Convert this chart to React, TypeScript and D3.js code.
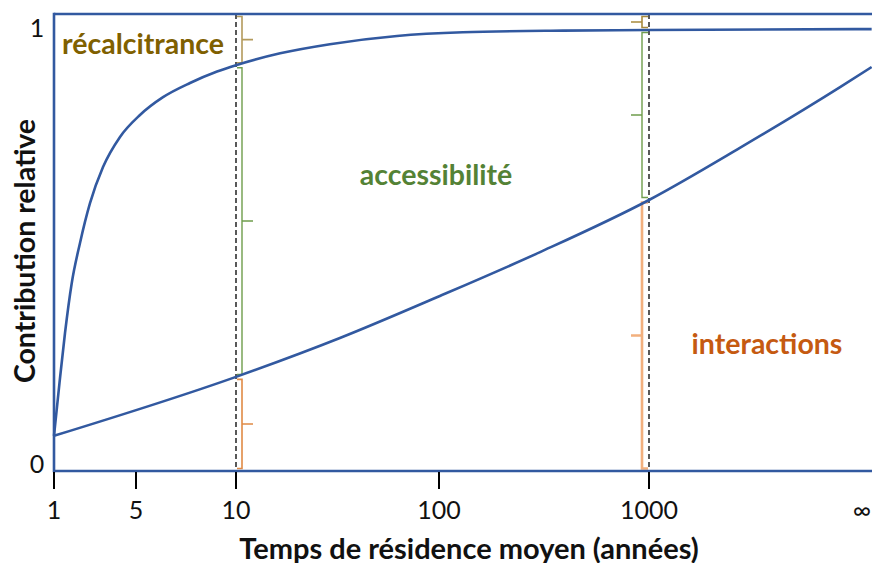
import React from "react";
import * as d3 from "d3";

// ---- data ----
const xTickValues = [1, 5, 10, 100, 1000];
const xTickLabels = ["1", "5", "10", "100", "1000"];
const infinityValue = 10000;
const infinityLabel = "∞";
const yTickValues = [0, 1];
const yTickLabels = ["0", "1"];

// upper curve (years, relative contribution)
const upperYears = [1, 1.114, 1.241, 1.416, 1.666, 2.027, 2.617, 3.653, 5.14, 6.03, 7.27, 8.77, 10, 16.5, 29, 62.1, 130, 389, 1000, 11100];
const upperValues = [0.077, 0.193, 0.302, 0.411, 0.499, 0.586, 0.665, 0.731, 0.779, 0.818, 0.849, 0.874, 0.888, 0.914, 0.934, 0.952, 0.96, 0.9637, 0.965, 0.967];

// lower curve
const lowerYears = [1, 10, 32.5, 101, 303, 1000, 2670, 7890, 11100];
const lowerValues = [0.077, 0.206, 0.291, 0.383, 0.479, 0.593, 0.707, 0.84, 0.884];

// markers (dashed lines) and bracket extents
const markerYears = [10, 1000];
const upperAtMarker = [0.888, 0.965];
const lowerAtMarker = [0.206, 0.593];

const labels = ["récalcitrance", "accessibilité", "interactions"];
const xTitle = "Temps de résidence moyen (années)";
const yTitle = "Contribution relative";

// ---- layout ----
const W = 872;
const H = 563;
const left = 54;
const top = 14;
const bottom = 471;

const BLUE = "#3259a0";
const FONT = "Lato, 'Open Sans', sans-serif";

export default function App() {
  const xs = d3
    .scaleLinear()
    .domain([1, 5, 10, 100, 1000, infinityValue].map((d) => Math.log10(d)))
    .range([54, 136, 236, 439, 649, 862]);
  const x = (t: number) => xs(Math.log10(t));
  const y = d3.scaleLinear().domain([0, 1]).range([bottom, top]);

  const line = d3
    .line<[number, number]>()
    .x((d) => x(d[0]))
    .y((d) => y(d[1]))
    .curve(d3.curveMonotoneX);

  const upper = upperYears.map((t, i) => [t, upperValues[i]] as [number, number]);
  const lower = lowerYears.map((t, i) => [t, lowerValues[i]] as [number, number]);

  const bracketColors = [
    ["#b39a5c", "#e08a45", "#6f9d4c"],
    ["#a88a3c", "#f2b07e", "#6f9d4c"],
  ];

  const brackets: JSX.Element[] = [];
  markerYears.forEach((t, i) => {
    const mx = x(t);
    const side = i === 0 ? 1 : -1;
    const bx = mx + side * (i === 0 ? 6 : 7);
    const tickLen = 11;
    const segs = [
      { from: upperAtMarker[i], to: 1, color: bracketColors[i][0], w: 1.6 },
      { from: lowerAtMarker[i], to: upperAtMarker[i], color: bracketColors[i][2], w: 1.4 },
      { from: 0, to: lowerAtMarker[i], color: bracketColors[i][1], w: i === 0 ? 1.6 : 2.6 },
    ];
    segs.forEach((s, j) => {
      const y0 = y(s.to) + 2.5;
      const y1 = y(s.from) - 2.5;
      const ym = (y0 + y1) / 2;
      const hx = mx + side * 1;
      const d = `M${hx},${y0} L${bx},${y0} L${bx},${y1} L${hx},${y1} M${bx},${ym} L${bx + side * tickLen},${ym}`;
      brackets.push(
        <path key={`b${i}-${j}`} d={d} fill="none" stroke={s.color} strokeWidth={s.w} />
      );
    });
  });

  return (
    <svg
      width={W}
      height={H}
      style={{ position: "absolute", left: 0, top: 0, background: "#fff" }}
      fontFamily={FONT}
    >
      {/* markers */}
      {markerYears.map((t, i) => (
        <line
          key={`m${i}`}
          x1={x(t)}
          x2={x(t)}
          y1={top}
          y2={bottom}
          stroke="#000"
          strokeWidth={1.3}
          strokeDasharray="5,3"
        />
      ))}
      {brackets}

      {/* curves */}
      <path d={line(upper) || ""} fill="none" stroke={BLUE} strokeWidth={2.6} />
      <path d={line(lower) || ""} fill="none" stroke={BLUE} strokeWidth={2.6} />

      {/* frame */}
      <line x1={left} x2={W} y1={top} y2={top} stroke={BLUE} strokeWidth={2.6} />
      <line x1={left} x2={W} y1={bottom} y2={bottom} stroke={BLUE} strokeWidth={2.6} />
      <line x1={left} x2={left} y1={top - 1.3} y2={bottom + 1.3} stroke={BLUE} strokeWidth={2.6} />

      {/* x ticks */}
      {xTickValues.map((t, i) => (
        <g key={`xt${i}`}>
          <line x1={x(t)} x2={x(t)} y1={bottom + 1} y2={bottom + 18} stroke="#000" strokeWidth={2} />
          <text x={x(t)} y={509} textAnchor="middle" dominantBaseline="central" fontSize={25} fill="#111">
            {xTickLabels[i]}
          </text>
        </g>
      ))}
      <text x={x(infinityValue)} y={509} textAnchor="middle" dominantBaseline="central" fontSize={25} fill="#111">
        {infinityLabel}
      </text>

      {/* y tick labels */}
      {yTickValues.map((v, i) => (
        <text
          key={`yt${i}`}
          x={37}
          y={v === 1 ? y(v) + 13 : y(v) - 8}
          textAnchor="middle"
          dominantBaseline="central"
          fontSize={25}
          fill="#111"
        >
          {yTickLabels[i]}
        </text>
      ))}

      {/* region labels */}
      <text x={62} y={43} dominantBaseline="central" fontSize={28.5} fontWeight="bold" fill="#7f6000">
        {labels[0]}
      </text>
      <text x={436} y={174} textAnchor="middle" dominantBaseline="central" fontSize={28.5} fontWeight="bold" fill="#548235">
        {labels[1]}
      </text>
      <text x={767} y={343} textAnchor="middle" dominantBaseline="central" fontSize={28.5} fontWeight="bold" fill="#c55a11">
        {labels[2]}
      </text>

      {/* axis titles */}
      <text x={469} y={547} textAnchor="middle" dominantBaseline="central" fontSize={29} fontWeight="bold" fill="#111">
        {xTitle}
      </text>
      <text
        transform={`translate(24,251) rotate(-90)`}
        textAnchor="middle"
        dominantBaseline="central"
        fontSize={28.5}
        fontWeight="bold"
        fill="#111"
      >
        {yTitle}
      </text>
    </svg>
  );
}
